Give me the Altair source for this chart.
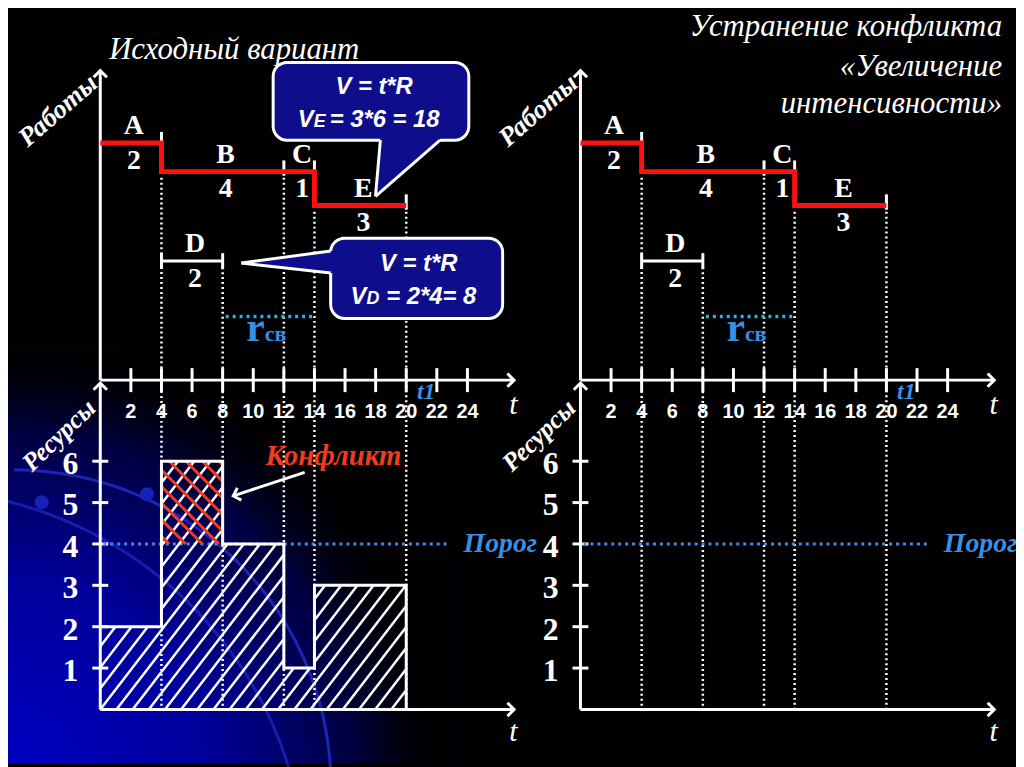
import altair as alt
import pandas as pd

# ---------------- values ----------------
JOBS = ["A", "B", "C", "D", "E"]
JOB_START = [0, 4, 12, 4, 14]
JOB_END = [4, 12, 14, 8, 20]
JOB_R = [2, 4, 1, 2, 3]                      # intensity (resources) of each job
JOB_LANE = [13.69, 13.0, 13.0, 10.84, 12.18]  # level on the "Работы" axis
CRITICAL = ["A", "B", "C", "E"]
T_TICKS = [2, 4, 6, 8, 10, 12, 14, 16, 18, 20, 22, 24]
R_TICKS = [1, 2, 3, 4, 5, 6]
THRESHOLD = 4
FREE_START, FREE_END, FREE_LEVEL = 8.2, 14.0, 9.5   # r_св
TITLE_LEFT = "Исходный вариант"
TITLE_RIGHT = ["Устранение конфликта", "«Увеличение", "интенсивности»"]

# ---------------- layout / style ----------------
W, H = 1016, 759
PX_T, PX_V = 15.42, 41.7
X0 = {"L": 93, "R": 577}
Y0 = 704
XDOM = {p: [-X0[p] / PX_T, (W - X0[p]) / PX_T] for p in X0}
YDOM = [-(H - Y0) / PX_V, Y0 / PX_V]
AXV = 7.96      # time axis between the diagrams
TOPV = 15.44    # tip of "Работы" axis
RESV = 7.89     # tip of "Ресурсы" axis
TEND = 27.05    # tip of time axes
SERIF = "Liberation Serif"
SANS = "Liberation Sans"
BLUE = "#3a8fe4"
RED = "#ff1010"
ORANGE = "#f03c1e"
BOX = "#0e0e8c"
UP = "M-1,1L0,0L1,1"
RIGHT = "M-1,-1L0,0L-1,1"

YS = alt.Scale(domain=YDOM, nice=False, zero=False)


def enc(p, t="t", v="v"):
    return dict(
        x=alt.X(f"{t}:Q", scale=alt.Scale(domain=XDOM[p], nice=False, zero=False), axis=None),
        y=alt.Y(f"{v}:Q", scale=YS, axis=None),
    )


def rules(p, rows, color="white", width=3, dash=None, cap="butt"):
    d = pd.DataFrame(rows, columns=["t", "v", "t2", "v2"])
    kw = dict(color=color, strokeWidth=width, strokeCap=cap)
    if dash:
        kw["strokeDash"] = dash
    return alt.Chart(d).mark_rule(**kw).encode(**enc(p), x2="t2:Q", y2="v2:Q")


def texts(p, rows, size, color="white", font=SERIF, weight="bold", style="normal",
          align="center", baseline="middle", dx=0, dy=0, angle=0):
    d = pd.DataFrame(rows, columns=["t", "v", "label"])
    kw = dict(fontSize=size, color=color, font=font, fontWeight=weight, fontStyle=style,
              align=align, baseline=baseline, dx=dx, dy=dy)
    if angle:
        kw["angle"] = angle
    return alt.Chart(d).mark_text(**kw).encode(**enc(p), text="label:N")


def chevrons(p, rows, shape, size=180, angle=0):
    d = pd.DataFrame(rows, columns=["t", "v"])
    kw = dict(shape=shape, size=size, filled=False, color="white", strokeWidth=3, opacity=1)
    if angle:
        kw["angle"] = angle
    return alt.Chart(d).mark_point(**kw).encode(**enc(p))


def path(p, pts, color, width):
    d = pd.DataFrame([(i, t, v) for i, (t, v) in enumerate(pts)], columns=["o", "t", "v"])
    return alt.Chart(d).mark_line(color=color, strokeWidth=width, strokeJoin="miter",
                                  strokeCap="butt").encode(**enc(p), order="o:Q")


def clip_line(k, c, v0, t0, t1, b0, b1):
    # line v = v0 + k (t - c), clipped to [t0,t1] x [b0,b1]
    ta = (b0 - v0) / k + c
    tb = (b1 - v0) / k + c
    lo, hi = max(min(ta, tb), t0), min(max(ta, tb), t1)
    if hi - lo < 1e-6:
        return None
    return (lo, v0 + k * (lo - c), hi, v0 + k * (hi - c))


jobs = pd.DataFrame(dict(name=JOBS, start=JOB_START, end=JOB_END, r=JOB_R, lane=JOB_LANE))
jobs["mid"] = (jobs.start + jobs.end) / 2
crit = jobs[jobs.name.isin(CRITICAL)].sort_values("start")
other = jobs[~jobs.name.isin(CRITICAL)]

# resource profile derived from the jobs
breaks = sorted(set(JOB_START + JOB_END))
profile = []
for a, b in zip(breaks[:-1], breaks[1:]):
    r = int(jobs[(jobs.start <= a) & (jobs.end >= b)].r.sum())
    profile.append((a, b, r))

# dotted guide lines
guides = []
for t in breaks[1:]:
    st = jobs[jobs.start == t].lane
    top = st.max() if len(st) else jobs[jobs.end == t].lane.min()
    guides.append((t, top - 0.15, t, 0))


def panel(p, full):
    L = []
    # dotted guides
    L.append(rules(p, guides, "white", 2.5, dash=[2, 3]))
    # axes
    L.append(rules(p, [(0, AXV, 0, TOPV), (0, AXV, TEND, AXV), (0, 0, 0, RESV), (0, 0, TEND, 0)], "white", 3))
    L.append(chevrons(p, [(0, TOPV), (0, RESV)], UP))
    L.append(chevrons(p, [(TEND, AXV), (TEND, 0)], RIGHT))
    # time ticks + labels
    L.append(rules(p, [(t, AXV - 0.29, t, AXV + 0.29) for t in T_TICKS], "white", 3))
    L.append(texts(p, [(t, AXV, str(t)) for t in T_TICKS], 20, font=SANS, dy=32))
    # resource ticks + labels
    L.append(rules(p, [(-0.52, r, 0.52, r) for r in R_TICKS], "white", 3))
    L.append(texts(p, [(-1.43, r, str(r)) for r in R_TICKS], 32, align="right", dy=3))
    # axis names
    L.append(texts(p, [(TEND - 0.05, 7.36, "t"), (TEND - 0.05, -0.55, "t")], 30, weight="normal", style="italic"))
    L.append(texts(p, [(21.3, 7.68, "t1")], 24, color=BLUE, style="italic"))
    L.append(texts(p, [(-2.75, 14.47, "Работы")], 27, style="italic", angle=319))
    L.append(texts(p, [(-2.7, 6.62, "Ресурсы")], 26, style="italic", angle=316))
    # threshold
    L.append(rules(p, [(0.2, THRESHOLD, 22.9, THRESHOLD)], BLUE, 3, dash=[3, 4]))
    L.append(texts(p, [(23.75, THRESHOLD, "Порог")], 28, color=BLUE, style="italic", align="left"))
    # r_св
    L.append(rules(p, [(FREE_START, FREE_LEVEL, FREE_END, FREE_LEVEL)], "#2bb0e8", 3.5, dash=[3, 4]))
    L.append(texts(p, [(10.75, 8.9, "r")], 42, color=BLUE, align="right", baseline="alphabetic"))
    L.append(texts(p, [(10.75, 8.9, "св")], 22, color=BLUE, align="left", baseline="alphabetic"))
    # non-critical job D
    L.append(rules(p, [(s, l, e, l) for s, e, l in zip(other.start, other.end, other.lane)], "white", 3))
    L.append(rules(p, [(t, l - 0.19, t, l + 0.19) for s, e, l in zip(other.start, other.end, other.lane)
                       for t in (s, e)], "white", 3))
    # job end marks of critical path
    L.append(rules(p, [(e, l - 0.1, e, l + 0.27) for e, l in zip(crit.end, crit.lane)], "white", 3))
    # critical path (red)
    pts = []
    for s, e, l in zip(crit.start, crit.end, crit.lane):
        pts += [(s, l), (e, l)]
    L.append(path(p, pts, RED, 5))
    # job labels
    L.append(texts(p, [(m, l, n) for m, l, n in zip(jobs.mid, jobs.lane, jobs.name)], 28, dy=-17, dx=3))
    L.append(texts(p, [(m, l, str(r)) for m, l, r in zip(jobs.mid, jobs.lane, jobs.r)], 28, dy=18, dx=3))

    if full:
        # white hatching of the load profile
        kw_, sp_ = 0.4807, 1.057
        segs = []
        for a, b, r in profile:
            for j in range(-30, 30):
                s = clip_line(kw_, j * sp_, 0, a, b, 0, r)
                if s:
                    segs.append(s)
        L.append(rules(p, segs, "white", 2.5))
        # red cross-hatching of the overload
        kr_, spr_ = -0.3698, 1.083
        rsegs = []
        for a, b, r in profile:
            if r > THRESHOLD:
                for j in range(-8, 12):
                    s = clip_line(kr_, 3.43 + j * spr_, r, a, b, THRESHOLD, r)
                    if s:
                        rsegs.append(s)
        L.append(rules(p, rsegs, ORANGE, 3))
        # outline of profile
        opts = []
        for a, b, r in profile:
            opts += [(a, r), (b, r)]
        opts.append((breaks[-1], 0))
        L.append(path(p, opts, "white", 3))
        # conflict label + arrow
        L.append(texts(p, [(15.24, 6.12, "Конфликт")], 29, color=ORANGE, style="italic"))
        L.append(rules(p, [(13.36, 5.73, 8.75, 5.17)], "white", 3))
        L.append(chevrons(p, [(8.69, 5.16)], RIGHT, size=170, angle=162))
        # callout E
        L.append(alt.Chart(pd.DataFrame([dict(t=11.3, t2=24.09, v=13.76, v2=15.64)]))
                 .mark_rect(fill=BOX, stroke="white", strokeWidth=3, cornerRadius=14)
                 .encode(**enc(p), x2="t2:Q", y2="v2:Q"))
        L.append(alt.Chart(pd.DataFrame(dict(t=[17.99, 18.31, 22.21], v=[12.40, 12.503, 13.76],
                                             v2=[12.40, 13.86, 13.86])))
                 .mark_area(color=BOX, opacity=1).encode(**enc(p), y2="v2:Q"))
        L.append(rules(p, [(17.99, 12.40, 18.31, 13.76), (17.99, 12.40, 22.21, 13.76)], "white", 3))
        L.append(texts(p, [(17.9, 15.04, "V = t*R")], 24, font=SANS, style="italic"))
        L.append(texts(p, [(13.95, 14.08, "V")], 24, font=SANS, style="italic", align="right", baseline="alphabetic"))
        L.append(texts(p, [(13.95, 14.08, "E")], 18, font=SANS, style="italic", align="left", baseline="alphabetic"))
        L.append(texts(p, [(15.0, 14.08, "= 3*6 = 18")], 24, font=SANS, style="italic", align="left", baseline="alphabetic"))
        # callout D
        L.append(alt.Chart(pd.DataFrame([dict(t=15.06, t2=26.3, v=9.45, v2=11.39)]))
                 .mark_rect(fill=BOX, stroke="white", strokeWidth=3, cornerRadius=14)
                 .encode(**enc(p), x2="t2:Q", y2="v2:Q"))
        L.append(alt.Chart(pd.DataFrame(dict(t=[9.22, 15.36], v=[10.79, 10.537], v2=[10.79, 11.095])))
                 .mark_area(color=BOX, opacity=1).encode(**enc(p), y2="v2:Q"))
        L.append(rules(p, [(9.22, 10.79, 15.06, 10.55), (9.22, 10.79, 15.06, 11.08)], "white", 3))
        L.append(texts(p, [(20.82, 10.77, "V = t*R")], 24, font=SANS, style="italic"))
        L.append(texts(p, [(17.4, 9.81, "V")], 24, font=SANS, style="italic", align="right", baseline="alphabetic"))
        L.append(texts(p, [(17.4, 9.81, "D")], 18, font=SANS, style="italic", align="left", baseline="alphabetic"))
        L.append(texts(p, [(18.7, 9.81, "= 2*4= 8")], 24, font=SANS, style="italic", align="left", baseline="alphabetic"))
        # title
        L.append(texts(p, [(0.58, 15.71, TITLE_LEFT)], 31, weight="normal", style="italic",
                       align="left", baseline="alphabetic"))
    else:
        L.append(texts(p, [(27.56, v, s) for v, s in zip([16.28, 15.31, 14.42], TITLE_RIGHT)], 31,
                       weight="normal", style="italic", align="right", baseline="alphabetic"))
    return L


# background decoration (lower-left glow, arcs)
bg = [
    alt.Chart(pd.DataFrame([dict(t=XDOM["L"][0], t2=23.0, v=8.8, v2=YDOM[0])]))
    .mark_rect(fill=alt.RadialGradient(gradient="radial",
                                        stops=[alt.GradientStop(offset=0, color="#0000c4"),
                                               alt.GradientStop(offset=0.45, color="#00009a"),
                                               alt.GradientStop(offset=0.78, color="#000040"),
                                               alt.GradientStop(offset=1, color="rgba(0,0,0,0)")],
                                        x1=0, y1=1, x2=0, y2=1, r1=0, r2=1))
    .encode(**enc("L"), x2="t2:Q", y2="v2:Q"),
    alt.Chart(pd.DataFrame(dict(t=[-5.64], v=[-1.87]))).mark_arc(
        theta=0, theta2=1.6, radius=321, radius2=318, color="#2530d8", opacity=0.75).encode(**enc("L")),
    alt.Chart(pd.DataFrame(dict(t=[-12.26], v=[-4.20]))).mark_arc(
        theta=0.1, theta2=1.5, radius=398, radius2=395, color="#2530d8", opacity=0.6).encode(**enc("L")),
    alt.Chart(pd.DataFrame(dict(t=[-3.83, 3.05], v=[5.01, 5.20]))).mark_point(
        shape="circle", filled=True, size=200, color="#1422b8", opacity=1).encode(**enc("L")),
]

layers = bg + panel("L", True) + panel("R", False)

chart = (
    alt.layer(*layers)
    .resolve_scale(x="independent")
    .properties(width=W, height=H, autosize=alt.AutoSizeParams(type="none"), padding=0,
                background="black")
    .configure_view(stroke=None)
)

chart.save("out.html", embed_options={"renderer": "svg", "actions": False})
